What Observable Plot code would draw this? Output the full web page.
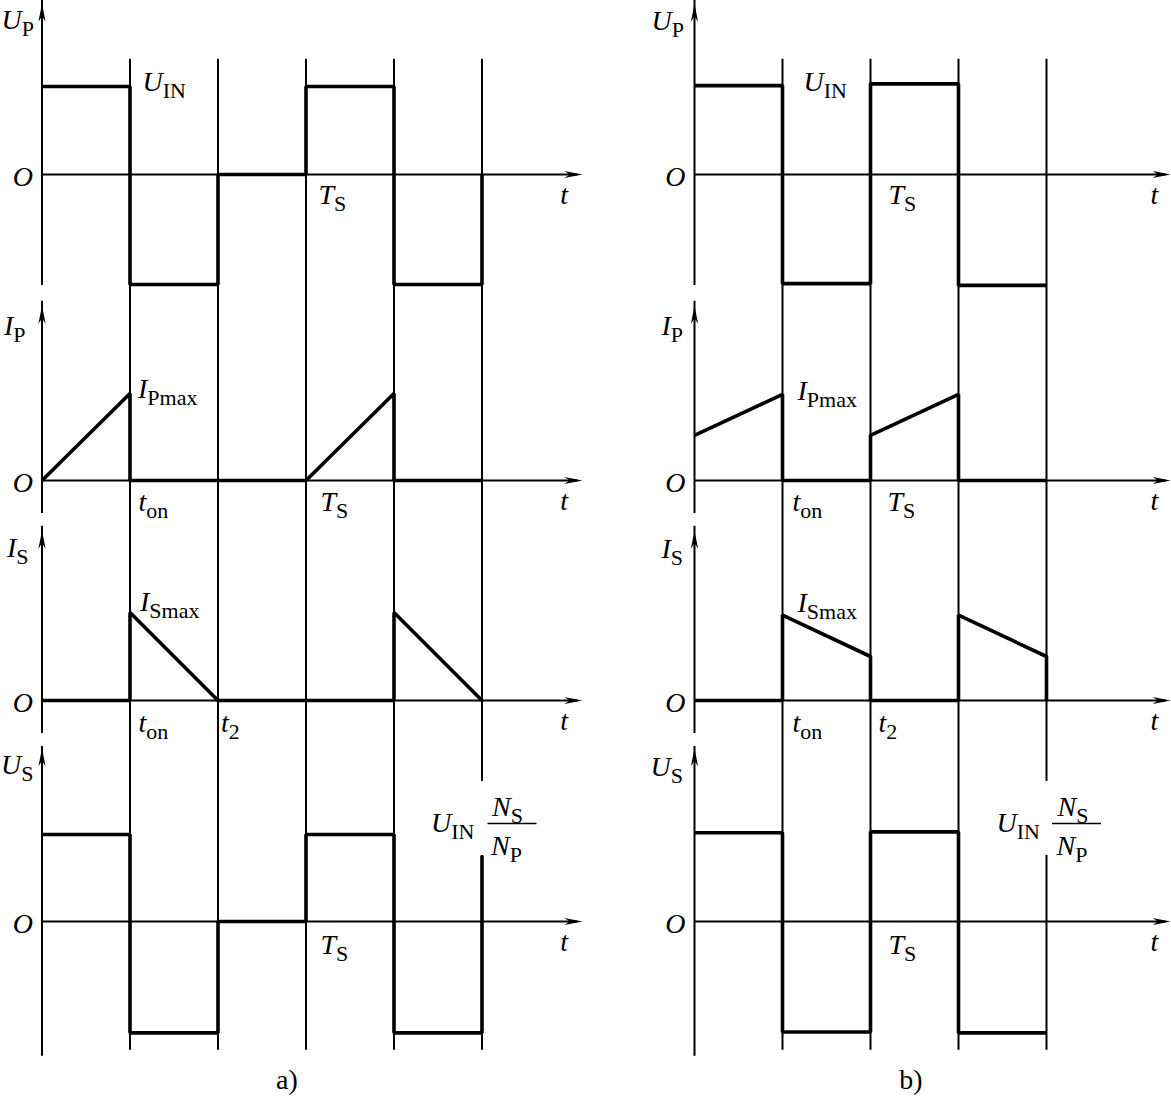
<!DOCTYPE html>
<html><head><meta charset="utf-8">
<script src="https://cdn.jsdelivr.net/npm/d3@7"></script>
<script src="https://cdn.jsdelivr.net/npm/@observablehq/plot@0.6"></script>
<style>
body{margin:0;background:#fff;}
#fig{position:relative;width:1171px;height:1118px;background:#fff;overflow:hidden;}
.cap{position:absolute;font-family:"Liberation Serif",serif;font-size:28px;line-height:1;color:#000;transform:translateX(-50%);}
</style></head><body><div id="fig"></div>
<script>
// ---------- waveform data (t in units of t_on, values normalised) ----------
// panel a) discontinuous mode
const aUP_t = [0,1,1,2,2,3,3,4,4,5,5];
const aUP_v = [1,1,-1.25,-1.25,0,0,1,1,-1.25,-1.25,0];
const aIP_t = [0,1,1,3,4,4,5];
const aIP_v = [0,1,0,0,1,0,0];
const aIS_t = [0,1,1,2,4,4,5];
const aIS_v = [0,0,1,0,0,1,0];
const aUS_t = [0,1,1,2,2,3,3,4,4,5,5];
const aUS_v = [1,1,-1.28,-1.28,0,0,1,1,-1.28,-1.28,0.76];
// panel b) continuous mode
const bUP_t = [0,1,1,2,2,3,3,4];
const bUP_v = [1.01,1.01,-1.24,-1.24,1.03,1.03,-1.26,-1.26];
const bIP_t = [0,1,1,2,2,3,3,4];
const bIP_v = [0.52,0.99,0,0,0.52,0.99,0,0];
const bIS_t = [0,1,1,2,2,3,3,4,4];
const bIS_v = [0,0,0.97,0.5,0,0,0.97,0.5,0];
const bUS_t = [0,1,1,2,2,3,3,4];
const bUS_v = [1.02,1.02,-1.27,-1.27,1.03,1.03,-1.28,-1.28];
// vertical guide lines
const aGrid = [1,2,3,4,5];
const bGrid = [1,2,3,4];
// texts
const axisNames = [["U","P"],["I","P"],["I","S"],["U","S"]];
const captions = ["a)","b)"];

// ---------- layout ----------
const FONT = '"Liberation Serif","Times New Roman",serif';
const MAIN = 28, SUB = 22, SUBDROP = 7;
const THIN = 2, THICK = 3.6;
const panels = [
  {key:"a", left:0, width:590, x0:41.5, unit:88, tEnd:6.14, grid:aGrid,
   waves:[[aUP_t,aUP_v],[aIP_t,aIP_v],[aIS_t,aIS_v],[aUS_t,aUS_v]], cap:287},
  {key:"b", left:590, width:581, x0:104, unit:88, tEnd:5.41, grid:bGrid,
   waves:[[bUP_t,bUP_v],[bIP_t,bIP_v],[bIS_t,bIS_v],[bUS_t,bUS_v]], cap:911}
];
const rows = [
  {top:0,   height:298, zero:174, unit:88, axisTop:1.94, axisBottom:-1.26, gridTop:1.31, gridBottom:-3},
  {top:298, height:226, zero:182, unit:87, axisTop:2.01, axisBottom:-0.38, gridTop:3, gridBottom:-3},
  {top:524, height:222, zero:176, unit:88, axisTop:1.93, axisBottom:-0.375, gridTop:3, gridBottom:-3},
  {top:746, height:316, zero:175, unit:87, axisTop:1.99, axisBottom:-1.55, gridTop:3, gridBottom:-1.48, gapTop:1.61, gapBottom:0.76}
];

// label placement (offsets in px from a data anchor)
function labelsFor(p, r) {
  const a = p.key === "a";
  const T = p.tEnd;
  const n = axisNames[r];
  const L = [];
  const axisOff = a ? [[-40.5,25],[-38,29],[-35,26],[-41,26]] : [[-43,26],[-33,29],[-33,27],[-44,28]];
  L.push({t:0, v:rows[r].axisTop, dx:axisOff[r][0], dy:axisOff[r][1], main:n[0], sub:n[1]});
  L.push({t:0, v:0, dx:-9, dy:11, main:"O", anchor:"end"});
  L.push({t:T, v:0, dx:a?-22:-20, dy:29, main:"t"});
  if (r === 0) {
    L.push({t:1, v:1, dx:a?12.5:21, dy:4, main:"U", sub:"IN"});
    L.push({t:a?3:2, v:0, dx:a?12.5:18, dy:29, main:"T", sub:"S"});
  } else if (r === 1) {
    L.push({t:1, v:1, dx:a?8:15, dy:a?4:6, main:"I", sub:"Pmax"});
    L.push({t:1, v:0, dx:a?8.5:10, dy:30, main:"t", sub:"on"});
    L.push({t:a?3:2, v:0, dx:a?14.5:17, dy:30, main:"T", sub:"S"});
  } else if (r === 2) {
    L.push({t:1, v:1, dx:a?10:15, dy:a?-2:-1, main:"I", sub:"Smax"});
    L.push({t:1, v:0, dx:a?8.5:10, dy:31, main:"t", sub:"on"});
    L.push({t:2, v:0, dx:a?3:8, dy:31, main:"t", sub:"2"});
  } else {
    L.push({t:a?3:2, v:0, dx:a?14.5:18, dy:32, main:"T", sub:"S"});
  }
  return L;
}

const ctx = document.createElement("canvas").getContext("2d");
function textWidth(s, size, italic) {
  ctx.font = `${italic ? "italic " : ""}${size}px "Liberation Serif"`;
  return ctx.measureText(s).width;
}
function labelMarks(specs) {
  const out = [];
  for (const s of specs) {
    const base = {x:"t", y:"v", fontFamily:FONT, fill:"black", lineAnchor:"bottom"};
    out.push(Plot.text([s], {...base, text:() => s.main, dx:s.dx, dy:s.dy,
      textAnchor:s.anchor || "start", fontSize:MAIN, fontStyle:"italic"}));
    if (s.sub) out.push(Plot.text([s], {...base, text:() => s.sub,
      dx:s.dx + textWidth(s.main, MAIN, true) + (s.kern || 0), dy:s.dy + SUBDROP,
      textAnchor:"start", fontSize:SUB, fontStyle:"normal"}));
  }
  return out;
}

// narrow filled arrowhead, tip at the origin pointing up
const dart = {draw(c) { c.moveTo(0,0); c.lineTo(3.6,18); c.lineTo(0,12.5); c.lineTo(-3.6,18); c.closePath(); }};

const fig = document.getElementById("fig");
for (const p of panels) {
  rows.forEach((r, ri) => {
    const [ts, vs] = p.waves[ri];
    const wave = d3.zip(ts, vs);
    const segs = [];
    for (const t of p.grid) {
      const last = t === p.grid[p.grid.length - 1];
      if (ri === 3 && last) {
        segs.push({t, y1:r.gridTop, y2:r.gapTop});
        segs.push({t, y1:r.gapBottom, y2:r.gridBottom});
      } else segs.push({t, y1:r.gridTop, y2:r.gridBottom});
    }
    const marks = [
      Plot.ruleX(segs, {x:"t", y1:"y1", y2:"y2", stroke:"black", strokeWidth:THIN}),
      Plot.ruleY([0], {x1:0, x2:p.tEnd - 0.05, stroke:"black", strokeWidth:THIN}),
      Plot.ruleX([0], {y1:r.axisBottom, y2:r.axisTop + 0.05, stroke:"black", strokeWidth:THIN}),
      Plot.line(wave, {x:d => d[0], y:d => d[1], stroke:"black", strokeWidth:THICK, strokeLinejoin:"miter", strokeLinecap:"butt"}),
      Plot.dot([0], {x:0, y:r.axisTop, symbol:dart, fill:"black", stroke:"none"}),
      Plot.dot([0], {x:p.tEnd, y:0, symbol:dart, rotate:90, fill:"black", stroke:"none"}),
      ...labelMarks(labelsFor(p, ri))
    ];
    if (ri === 3) {
      const ft = p.grid[p.grid.length - 1];
      const u = p.unit;
      marks.push(...labelMarks([
        {t:ft, v:1, dx:p.key==="a"?-51:-50, dy:-3, main:"U", sub:"IN"},
        {t:ft, v:1, dx:p.key==="a"?10:11, dy:-19, main:"N", sub:"S"},
        {t:ft, v:1, dx:p.key==="a"?9:10, dy:20, main:"N", sub:"P"}
      ]));
      marks.push(Plot.ruleY([1], {x1:ft + 6/u, x2:ft + 55/u, dy:-11, stroke:"black", strokeWidth:1.6}));
    }
    const svg = Plot.plot({
      width:p.width, height:r.height,
      marginTop:0, marginRight:0, marginBottom:0, marginLeft:0,
      x:{type:"linear", domain:[0,1], range:[p.x0, p.x0 + p.unit], axis:null},
      y:{type:"linear", domain:[0,1], range:[r.zero, r.zero - r.unit], axis:null},
      style:{background:"transparent", overflow:"hidden"},
      marks
    });
    svg.style.position = "absolute";
    svg.style.left = p.left + "px";
    svg.style.top = r.top + "px";
    fig.append(svg);
  });
}
panels.forEach((p, i) => {
  const d = document.createElement("div");
  d.className = "cap";
  d.textContent = captions[i];
  d.style.left = p.cap + "px";
  d.style.top = "1066px";
  fig.append(d);
});
</script></body></html>
